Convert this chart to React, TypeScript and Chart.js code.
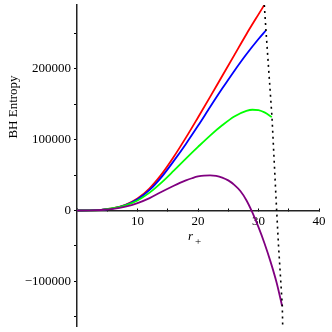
import React, { useEffect, useRef } from "react";
import { Chart, registerables } from "chart.js";

Chart.register(...registerables);

// ---- data ----
const redR = [0, 2, 4, 6, 8, 10, 12, 14, 16, 18, 20, 22, 24, 26, 28, 30, 30.92];
const redS = [0, 150, 1000, 3200, 8000, 16800, 31300, 51300, 75800, 102800, 131300, 160300, 189800, 219300, 248800, 276800, 289500];

const blueR = [0, 2, 4, 6, 8, 10, 12, 14, 16, 18, 20, 22, 24, 26, 28, 30, 31.2];
const blueS = [0, 140, 940, 3000, 7500, 15700, 29000, 47500, 70000, 94000, 119500, 146000, 172000, 197000, 220500, 242000, 254000];

const greenR = [0, 2, 4, 6, 8, 10, 12, 14, 16, 18, 20, 22, 24, 26, 28, 29, 30, 31, 32.2];
const greenS = [0, 120, 1000, 3200, 7200, 14200, 25200, 39700, 56200, 73200, 89700, 105700, 120200, 132700, 140500, 142200, 141600, 138400, 132000];

const purpleR = [0, 2, 4, 6, 8, 10, 12, 14, 16, 17, 18, 19, 20, 21, 22, 23, 24, 25, 26, 27, 28, 29, 30, 31, 32, 33, 33.9];
const purpleS = [0, 100, 700, 2300, 5500, 10500, 17500, 26500, 35000, 39000, 42500, 45500, 48000, 49300, 49500, 48800, 46500, 42500, 36200, 27500, 14500, -3000, -23500, -46500, -72500, -102000, -134700];

const dotR = [30.96, 31.24, 32.23, 32.61, 33.0, 33.32, 33.93, 34.0];
const dotS = [290000, 253500, 131400, 66900, 0, -51400, -133800, -163000];

const xTickValues = [0, 5, 10, 15, 20, 25, 30, 35, 40];
const xTickLabels = ["", "", "10", "", "20", "", "30", "", "40"];
const yTickValues = [-150000, -100000, -50000, 0, 50000, 100000, 150000, 200000, 250000];
const yTickLabels = ["", "\u2212100000", "", "0", "", "100000", "", "200000", ""];

const xMin = 0;
const xMax = 40;
const yMin = -163000;
const yMax = 290000;

const yTitle = "BH Entropy";
const xTitleMain = "r";
const xTitleSub = "+";

const FONT = "'Liberation Serif', 'Times New Roman', serif";

const pts = (r: number[], s: number[]) => r.map((v, i) => ({ x: v, y: s[i] }));

const titlePlugin = {
  id: "axisTitles",
  afterDraw(chart: any) {
    const ctx = chart.ctx as CanvasRenderingContext2D;
    ctx.save();
    ctx.fillStyle = "#000";
    ctx.font = `13px ${FONT}`;
    ctx.textAlign = "center";
    ctx.textBaseline = "middle";
    ctx.translate(14, 107);
    ctx.rotate(-Math.PI / 2);
    ctx.fillText(yTitle, 0, 0);
    ctx.restore();

    ctx.save();
    ctx.fillStyle = "#000";
    ctx.textAlign = "left";
    ctx.textBaseline = "alphabetic";
    ctx.font = `italic 13px ${FONT}`;
    ctx.fillText(xTitleMain, 188, 240);
    ctx.font = `11px ${FONT}`;
    ctx.fillText(xTitleSub, 195, 245);
    ctx.restore();
  },
};

export default function App() {
  const ref = useRef<HTMLCanvasElement | null>(null);
  useEffect(() => {
    if (!ref.current) return;
    const line = (data: any[], color: string, extra: any = {}) => ({
      data,
      borderColor: color,
      backgroundColor: color,
      borderWidth: 1.8,
      pointRadius: 0,
      fill: false,
      cubicInterpolationMode: "monotone",
      ...extra,
    });
    const chart = new Chart(ref.current, {
      type: "line",
      data: {
        datasets: [
          line(pts(dotR, dotS), "#000000", { borderDash: [2, 4], borderWidth: 1.6, cubicInterpolationMode: "default", tension: 0 }),
          line(pts(purpleR, purpleS), "#800080"),
          line(pts(greenR, greenS), "#00ff00"),
          line(pts(blueR, blueS), "#0000ff"),
          line(pts(redR, redS), "#ff0000"),
        ],
      },
      options: {
        animation: false,
        responsive: false,
        devicePixelRatio: 1,
        layout: { padding: { left: 0, top: 5, right: 13, bottom: 6 } },
        plugins: { legend: { display: false }, tooltip: { enabled: false } },
        scales: {
          x: {
            type: "linear",
            min: xMin,
            max: xMax,
            position: { y: 0 } as any,
            afterBuildTicks: (scale: any) => {
              scale.ticks = xTickValues.map((v) => ({ value: v }));
            },
            afterFit: (scale: any) => {
              scale.paddingLeft = 0;
              scale.paddingRight = 0;
            },
            ticks: {
              autoSkip: false,
              maxRotation: 0,
              padding: 6,
              color: "#000",
              font: { family: FONT, size: 13 },
              callback: (v: any) => {
                const i = xTickValues.indexOf(Number(v));
                return i >= 0 ? xTickLabels[i] : "";
              },
            },
            grid: { drawOnChartArea: false, drawTicks: true, tickLength: -3, color: "#000" },
            border: { display: true, color: "#222", width: 1.5 },
          },
          y: {
            type: "linear",
            min: yMin,
            max: yMax,
            position: "left",
            afterBuildTicks: (scale: any) => {
              scale.ticks = yTickValues.map((v) => ({ value: v }));
            },
            afterFit: (scale: any) => {
              scale.width = 77;
              scale.paddingTop = 0;
              scale.paddingBottom = 0;
            },
            ticks: {
              autoSkip: false,
              padding: 3,
              color: "#000",
              font: { family: FONT, size: 13 },
              callback: (v: any) => {
                const i = yTickValues.indexOf(Number(v));
                return i >= 0 ? yTickLabels[i] : "";
              },
            },
            grid: { drawOnChartArea: false, drawTicks: true, tickLength: 3, color: "#000" },
            border: { display: true, color: "#222", width: 1.5 },
          },
        },
      },
      plugins: [titlePlugin],
    } as any);
    return () => chart.destroy();
  }, []);
  return (
    <div style={{ position: "absolute", left: 0, top: 0, width: 332, height: 332 }}>
      <canvas ref={ref} width={332} height={332} style={{ width: 332, height: 332, display: "block" }} />
    </div>
  );
}
